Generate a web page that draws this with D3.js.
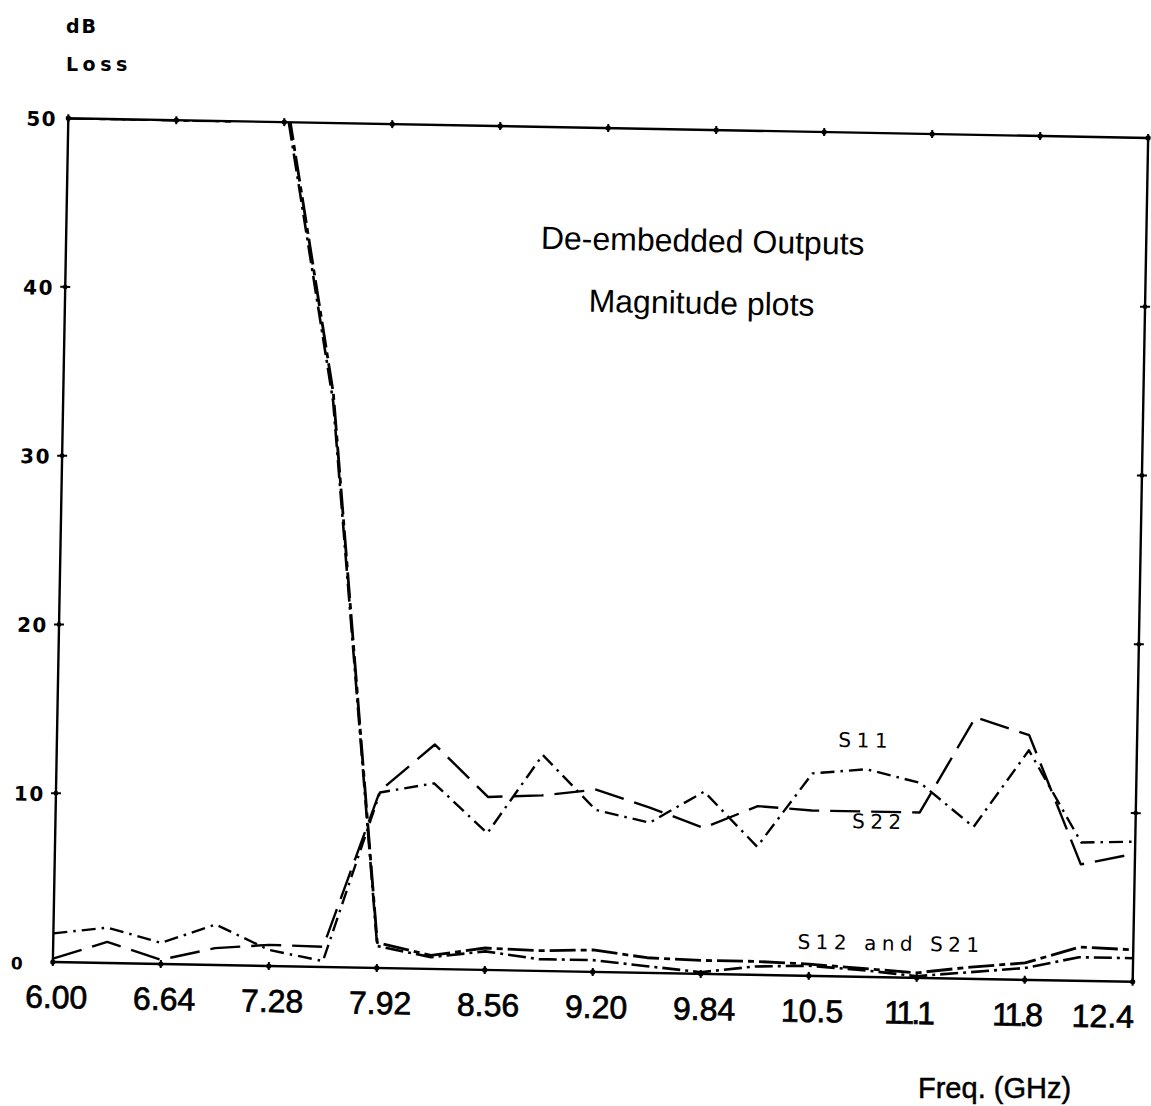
<!DOCTYPE html>
<html><head><meta charset="utf-8">
<script src="https://cdn.jsdelivr.net/npm/d3@7"></script>
<style>body{margin:0;background:#fff}svg{display:block}</style>
</head><body>
<svg id="c" width="1151" height="1106"></svg>
<script>
// ---- data ----
const freqs = [6.00,6.32,6.64,6.96,7.28,7.60,7.92,8.24,8.56,8.88,9.20,9.52,9.84,10.16,10.48,10.80,11.12,11.44,11.76,12.08,12.40];
const s11 = [1.7,2.1,1.25,2.4,0.95,0.35,10.4,11.0,8.1,12.8,9.6,8.9,10.8,7.6,12.0,12.3,11.55,9.0,13.6,8.2,8.3];
const s22 = [0.2,1.25,0.25,1.0,1.25,1.2,10.5,13.3,10.25,10.4,10.8,9.8,8.65,10.0,9.8,9.8,9.8,15.5,14.5,6.9,7.6];
const s12 = [50,50,50,50,52,34,1.5,0.8,1.3,1.2,1.3,0.9,0.8,0.8,0.7,0.5,0.3,0.7,1.0,2.0,1.9];
const s21 = [50,50,50,50,51.5,33.5,1.3,0.7,1.1,0.7,0.7,0.4,0.1,0.5,0.6,0.4,0.1,0.4,0.7,1.4,1.4];
const xTickValues = [6.00,6.64,7.28,7.92,8.56,9.20,9.84,10.48,11.12,11.76,12.40];
const xTickLabels = ["6.00","6.64","7.28","7.92","8.56","9.20","9.84","10.5","11.1","11.8","12.4"];
const yTickValues = [0,10,20,30,40,50];
const yTickLabels = ["0","10","20","30","40","50"];
const seriesNames = ["S11","S22","S12","S21"];

// ---- layout ----
const svg = d3.select("#c");
const X0 = 60.5, X1 = 1140.5, Y0 = 128, Y1 = 972;
const x = d3.scaleLinear().domain([6.00, 12.40]).range([X0, X1]);
const y = d3.scaleLinear().domain([0, 50]).range([Y1, Y0]);

const g = svg.append("g").attr("transform", "rotate(1.05,600.5,550)");

g.append("clipPath").attr("id","clip").append("rect")
  .attr("x", X0).attr("y", Y0).attr("width", X1-X0).attr("height", Y1-Y0);

// frame
g.append("rect").attr("x", X0).attr("y", Y0).attr("width", X1-X0).attr("height", Y1-Y0)
  .attr("fill","none").attr("stroke","#000").attr("stroke-width",2.4);

// tick markers on frame
const mk = g.append("g").attr("fill","#000").attr("stroke","#000").attr("stroke-width",2);
xTickValues.forEach(v => {
  [Y0, Y1].forEach(yy => {
    mk.append("line").attr("x1", x(v)).attr("x2", x(v)).attr("y1", yy-4).attr("y2", yy+4);
    mk.append("circle").attr("cx", x(v)).attr("cy", yy).attr("r", 2.6).attr("stroke","none");
  });
});
yTickValues.filter(v => v > 0 && v < 50).forEach(v => {
  [X0, X1].forEach(xx => {
    mk.append("line").attr("x1", xx-5).attr("x2", xx+5).attr("y1", y(v)).attr("y2", y(v));
    mk.append("circle").attr("cx", xx).attr("cy", y(v)).attr("r", 2.4).attr("stroke","none");
  });
});

// axis labels
g.append("g").selectAll("text").data(yTickValues).join("text")
  .attr("x", X0 - 42).attr("y", d => y(d) + 8)
  .attr("text-anchor","start")
  .attr("font-family","DejaVu Sans").attr("font-weight","bold")
  .attr("font-size", d => d === 0 ? 17 : 20).attr("letter-spacing", 1.5)
  .text((d,i) => yTickLabels[i]);

const nX = xTickValues.length;
g.append("g").selectAll("text").data(xTickValues).join("text")
  .attr("x", (d,i) => i === nX-1 ? x(d) + 2 : (i >= nX-3 ? x(d) - 8 : x(d) + 4))
  .attr("y", Y1 + 46)
  .attr("text-anchor", (d,i) => i === nX-1 ? "end" : "middle")
  .attr("font-family","Liberation Sans").attr("font-size", 32)
  .attr("letter-spacing", (d,i) => xTickLabels[i].startsWith("11") ? -3 : 0)
  .attr("stroke","#000").attr("stroke-width",0.7)
  .text((d,i) => xTickLabels[i]);

// series
const line = d3.line().x((d,i) => x(freqs[i])).y(d => y(d));
const styles = {
  S11: {data: s11, dash: "14,6,2.5,6", w: 2.4},
  S22: {data: s22, dash: "30,11", w: 2.4},
  S12: {data: s12, dash: "26,5,6,5", w: 2.8},
  S21: {data: s21, dash: "18,5,3,5", w: 2.6}
};
const lg = g.append("g").attr("clip-path","url(#clip)");
seriesNames.forEach(n => {
  lg.append("path").datum(styles[n].data)
    .attr("d", line).attr("fill","none").attr("stroke","#000")
    .attr("stroke-width", styles[n].w).attr("stroke-dasharray", styles[n].dash)
    .attr("stroke-linejoin","round");
});

// series labels
const seriesLabels = [
  {t:"S11", f:10.63, v:13.6},
  {t:"S22", f:10.72, v:8.8},
  {t:"S12 and S21", f:10.41, v:1.6}
];
g.append("g").selectAll("text").data(seriesLabels).join("text")
  .attr("x", d => x(d.f)).attr("y", d => y(d.v))
  .attr("font-family", "DejaVu Sans").attr("font-size", 20)
  .attr("letter-spacing", 5.5)
  .text(d => d.t);

// titles
g.append("text").attr("x", 697).attr("y", 250).attr("text-anchor","middle")
  .attr("font-family","Liberation Sans").attr("font-size", 32).text("De-embedded Outputs");
g.append("text").attr("x", 697).attr("y", 312).attr("text-anchor","middle")
  .attr("font-family","Liberation Sans").attr("font-size", 32).text("Magnitude plots");

// unit labels
svg.append("text").attr("x", 66).attr("y", 33)
  .attr("font-family","DejaVu Sans").attr("font-weight","bold").attr("font-size", 19)
  .attr("letter-spacing", 2).text("dB");
svg.append("text").attr("x", 66).attr("y", 71)
  .attr("font-family","DejaVu Sans").attr("font-weight","bold").attr("font-size", 19)
  .attr("letter-spacing", 4.5).text("Loss");
svg.append("text").attr("x", 918).attr("y", 1098)
  .attr("font-family","Liberation Sans").attr("font-size", 29)
  .attr("stroke","#000").attr("stroke-width",0.5).text("Freq. (GHz)");
</script>
</body></html>
